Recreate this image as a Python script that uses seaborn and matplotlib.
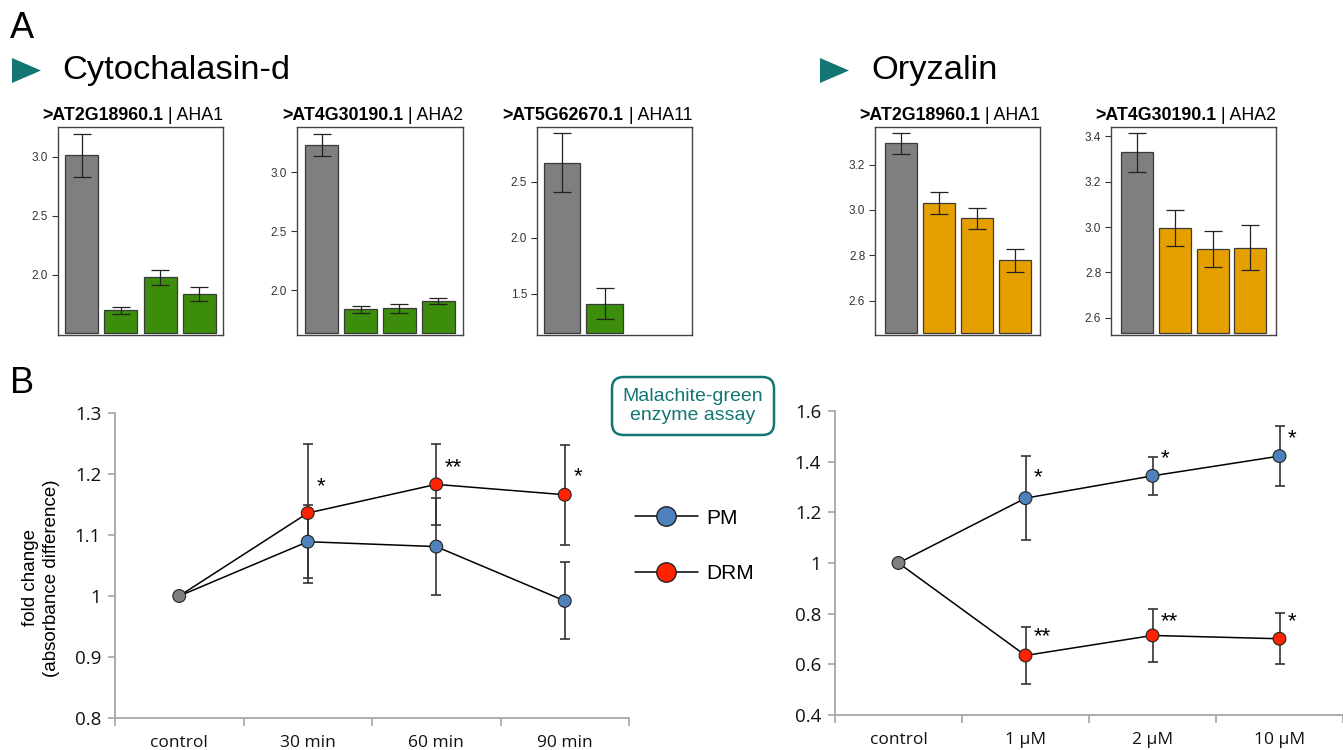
import numpy as np
import pandas as pd
import matplotlib
matplotlib.use("Agg")
import matplotlib.pyplot as plt
import seaborn as sns
from matplotlib.lines import Line2D
from matplotlib.patches import Polygon

# ---------------- Panel A data (bar charts) ----------------
aha1_cyto_vals = [3.01, 1.70, 1.98, 1.84]
aha1_cyto_err = [0.18, 0.03, 0.064, 0.06]
aha2_cyto_vals = [3.23, 1.84, 1.845, 1.906]
aha2_cyto_err = [0.094, 0.03, 0.035, 0.025]
aha11_cyto_vals = [2.67, 1.41]
aha11_cyto_err = [0.265, 0.14]
aha1_ory_vals = [3.293, 3.031, 2.963, 2.778]
aha1_ory_err = [0.045, 0.047, 0.045, 0.05]
aha2_ory_vals = [3.328, 2.996, 2.904, 2.909]
aha2_ory_err = [0.084, 0.08, 0.079, 0.098]

gene_ids = [">AT2G18960.1", ">AT4G30190.1", ">AT5G62670.1", ">AT2G18960.1", ">AT4G30190.1"]
gene_names = [" | AHA1", " | AHA2", " | AHA11", " | AHA1", " | AHA2"]

# ---------------- Panel B data (line charts) ----------------
time_labels = ["control", "30 min", "60 min", "90 min"]
time_pm = [1.0, 1.089, 1.081, 0.992]
time_pm_err = [0.0, 0.06, 0.08, 0.063]
time_drm = [1.0, 1.136, 1.183, 1.166]
time_drm_err = [0.0, 0.114, 0.067, 0.082]
time_stars = [("PM", 1, "*", 1.179), ("PM", 2, "**", 1.21), ("PM", 3, "*", 1.195)]

dose_labels = ["control", "1 µM", "2 µM", "10 µM"]
dose_pm = [1.0, 1.256, 1.344, 1.422]
dose_pm_err = [0.0, 0.165, 0.074, 0.12]
dose_drm = [1.0, 0.635, 0.714, 0.701]
dose_drm_err = [0.0, 0.112, 0.105, 0.10]
dose_stars = [("PM", 1, "*", 1.336), ("PM", 2, "*", 1.41), ("PM", 3, "*", 1.49),
              ("DRM", 1, "**", 0.708), ("DRM", 2, "**", 0.77), ("DRM", 3, "*", 0.767)]

# ---------------- Style ----------------
sns.set_style("white")
plt.rcParams["font.family"] = ["Liberation Sans", "DejaVu Sans"]
plt.rcParams["text.color"] = "black"
plt.rcParams["axes.labelcolor"] = "black"
plt.rcParams["xtick.color"] = "black"
plt.rcParams["ytick.color"] = "black"

GRAY = "#7f7f7f"
GREEN = "#3c8d0b"
ORANGE = "#e5a000"
BLUE = "#4f81bd"
RED = "#ff2200"
TEAL = "#137673"
AXGRAY = "#a6a6a6"

W, H = 1343, 750
fig = plt.figure(figsize=(W / 100, H / 100), dpi=100)


def px_rect(x0, y0, x1, y1):
    return [x0 / W, 1 - y1 / H, (x1 - x0) / W, (y1 - y0) / H]


def bar_panel(rect, vals, errs, colors, ylim, ticks, xlim, width, bold, reg):
    ax = fig.add_axes(rect)
    cats = [f"g{i}" for i in range(len(vals))]
    df = pd.DataFrame({"g": cats, "v": vals})
    sns.barplot(data=df, x="g", y="v", hue="g", palette=colors, legend=False,
                width=width, edgecolor="#3a3a3a", linewidth=0.9, saturation=1, ax=ax)
    base = ylim[0] + 0.012 * (ylim[1] - ylim[0])
    for p in ax.patches:
        top = p.get_y() + p.get_height()
        p.set_y(base)
        p.set_height(top - base)
    ax.errorbar(np.arange(len(vals)), vals, yerr=errs, fmt="none", ecolor="#222222",
                elinewidth=0.9, capsize=6.5, capthick=0.9, zorder=4)
    ax.set_ylim(*ylim)
    ax.set_xlim(*xlim)
    ax.set_xticks([])
    ax.set_yticks(ticks, labels=[f"{t:.1f}" for t in ticks])
    ax.tick_params(axis="y", direction="out", length=4, width=0.8, labelsize=8.5,
                   colors="#333333", pad=3, left=True)
    ax.set_xlabel("")
    ax.set_ylabel("")
    for s in ax.spines.values():
        s.set_visible(True)
        s.set_color("#444444")
        s.set_linewidth(1.0)
    t = ax.text(1.0, 1.016, reg, transform=ax.transAxes, ha="right", va="bottom", fontsize=12.8)
    ax.annotate(bold, xy=(0, 0), xycoords=t, ha="right", va="bottom",
                fontsize=12.8, fontweight="bold")
    return ax


bar_panel(px_rect(58, 127, 223, 335), aha1_cyto_vals, aha1_cyto_err,
          [GRAY, GREEN, GREEN, GREEN], (1.49, 3.25), [2.0, 2.5, 3.0], (-0.6, 3.6), 0.84,
          gene_ids[0], gene_names[0])
bar_panel(px_rect(297, 127, 463, 335), aha2_cyto_vals, aha2_cyto_err,
          [GRAY, GREEN, GREEN, GREEN], (1.62, 3.385), [2.0, 2.5, 3.0], (-0.63, 3.63), 0.84,
          gene_ids[1], gene_names[1])
bar_panel(px_rect(537, 127, 692, 335), aha11_cyto_vals, aha11_cyto_err,
          [GRAY, GREEN], (1.13, 2.99), [1.5, 2.0, 2.5], (-0.59, 3.06), 0.85,
          gene_ids[2], gene_names[2])
bar_panel(px_rect(875, 127, 1040, 335), aha1_ory_vals, aha1_ory_err,
          [GRAY, ORANGE, ORANGE, ORANGE], (2.45, 3.365), [2.6, 2.8, 3.0, 3.2], (-0.69, 3.67), 0.85,
          gene_ids[3], gene_names[3])
bar_panel(px_rect(1111, 127, 1276, 335), aha2_ory_vals, aha2_ory_err,
          [GRAY, ORANGE, ORANGE, ORANGE], (2.525, 3.44), [2.6, 2.8, 3.0, 3.2, 3.4], (-0.70, 3.68), 0.85,
          gene_ids[4], gene_names[4])


def line_panel(rect, labels, pm, pm_err, drm, drm_err, ylim, yticks, xlim, stars):
    ax = fig.add_axes(rect)
    n = len(labels)
    idx = np.arange(n)
    df = pd.DataFrame({"x": np.r_[idx, idx], "y": np.r_[pm, drm],
                       "series": ["PM"] * n + ["DRM"] * n})
    sns.lineplot(data=df, x="x", y="y", hue="series", palette={"PM": "black", "DRM": "black"},
                 linewidth=1.1, legend=False, estimator=None, sort=False, ax=ax, zorder=2)
    for vals, errs in ((pm, pm_err), (drm, drm_err)):
        ax.errorbar(idx[1:], vals[1:], yerr=errs[1:], fmt="none", ecolor="#333333",
                    elinewidth=1.2, capsize=3.5, capthick=1.2, zorder=3)
    pts = pd.DataFrame({"x": np.r_[idx[1:], idx[1:], idx[:1]],
                        "y": np.r_[pm[1:], drm[1:], pm[:1]],
                        "kind": ["PM"] * (n - 1) + ["DRM"] * (n - 1) + ["control"]})
    sns.scatterplot(data=pts, x="x", y="y", hue="kind",
                    palette={"PM": BLUE, "DRM": RED, "control": GRAY},
                    s=85, edgecolor="#222222", linewidth=0.8, legend=False, zorder=5, ax=ax)
    for ser, i, lab, ys in stars:
        off = 0.1 if lab == "*" else 0.13
        ax.text(idx[i] + off, ys, lab, ha="center", va="center", fontsize=16, color="black")
    ax.set_xlim(*xlim)
    ax.set_ylim(*ylim)
    ax.set_xticks(np.arange(-0.5, n, 1.0), labels=[""] * (n + 1))
    ax.set_xticks(idx, labels=labels, minor=True, fontfamily="Open Sans", fontsize=12.5)
    ax.tick_params(axis="x", which="major", direction="out", length=6, width=1.2,
                   color=AXGRAY, bottom=True)
    ax.tick_params(axis="x", which="minor", length=0, pad=12, labelcolor="#111111")
    ax.set_yticks(yticks, labels=[f"{t:g}" for t in yticks], fontfamily="Open Sans", fontsize=13.5)
    ax.tick_params(axis="y", direction="out", length=5, width=1.2, color=AXGRAY,
                   pad=5, labelcolor="#111111", left=True)
    ax.set_xlabel("")
    ax.set_ylabel("")
    for s in ("top", "right"):
        ax.spines[s].set_visible(False)
    for s in ("left", "bottom"):
        ax.spines[s].set_color(AXGRAY)
        ax.spines[s].set_linewidth(1.3)
    return ax


line_panel(px_rect(115, 413, 629, 718), time_labels, time_pm, time_pm_err, time_drm, time_drm_err,
           (0.8, 1.3), [0.8, 0.9, 1.0, 1.1, 1.2, 1.3], (-0.5, 3.5), time_stars)
line_panel(px_rect(835, 411, 1343, 715), dose_labels, dose_pm, dose_pm_err, dose_drm, dose_drm_err,
           (0.4, 1.6), [0.4, 0.6, 0.8, 1.0, 1.2, 1.4, 1.6], (-0.5, 3.46), dose_stars)

# y-axis label of the left line chart
fig.text(41 / W, 1 - 578 / H, "fold change\n(absorbance difference)", rotation=90,
         ha="center", va="center", fontsize=13.5, linespacing=1.35)

# legend
handles = [Line2D([0], [0], color="black", lw=1.1, marker="o", markersize=14,
                  markerfacecolor=c, markeredgecolor="#222222", markeredgewidth=1.0)
           for c in (BLUE, RED)]
fig.legend(handles=handles, labels=["PM", "DRM"], loc="center left",
           bbox_to_anchor=(635 / W, 1 - 546 / H), frameon=False, fontsize=15,
           handlelength=3.0, handletextpad=0.4, labelspacing=1.75, borderpad=0,
           borderaxespad=0)

# annotation box
fig.text(693 / W, 1 - 406 / H, "Malachite-green\nenzyme assay", ha="center", va="center",
         color=TEAL, fontsize=14, linespacing=1.2,
         bbox=dict(boxstyle="round,pad=0.55,rounding_size=0.6", fc="white", ec=TEAL, lw=1.8))

# panel headers
fig.text(10 / W, 1 - 28 / H, "A", fontsize=26, ha="left", va="center", color="black")
fig.text(10 / W, 1 - 383 / H, "B", fontsize=26, ha="left", va="center", color="black")


def tri(x0, yc):
    pts = [((x0) / W, 1 - (yc - 12.5) / H), ((x0) / W, 1 - (yc + 12.5) / H),
           ((x0 + 29) / W, 1 - yc / H)]
    fig.add_artist(Polygon(pts, closed=True, transform=fig.transFigure, fc=TEAL, ec="none"))


tri(12, 70.5)
tri(820, 70.5)
fig.text(62 / W, 1 - 70 / H, "Cytochalasin-d", fontsize=24.8, ha="left", va="center", color="black")
fig.text(871 / W, 1 - 70 / H, "Oryzalin", fontsize=24.8, ha="left", va="center", color="black")

fig.savefig("out.png", dpi=100)
